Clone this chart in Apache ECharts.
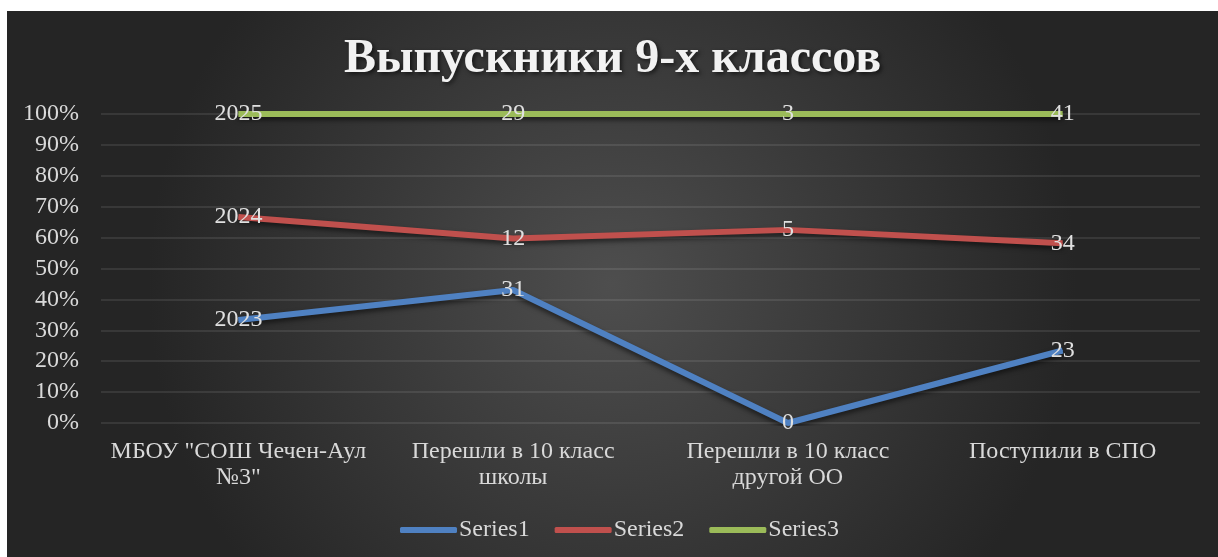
<!DOCTYPE html>
<html>
<head>
<meta charset="utf-8">
<script src="https://cdn.jsdelivr.net/npm/echarts@6/dist/echarts.min.js"></script>
<style>
html,body{margin:0;padding:0;background:#fff;}
#c{position:absolute;left:7px;top:11px;width:1211px;height:546px;}
</style>
</head>
<body>
<div id="c"></div>
<script>
const categories = ['МБОУ "СОШ Чечен-Аул\n№3"', 'Перешли в 10 класс\nшколы', 'Перешли в 10 класс\nдругой ОО', 'Поступили в СПО'];
const series1 = [2023, 31, 0, 23];
const series2 = [2024, 12, 5, 34];
const series3 = [2025, 29, 3, 41];
const seriesNames = ['Series1', 'Series2', 'Series3'];
const yTicks = [0, 0.1, 0.2, 0.3, 0.4, 0.5, 0.6, 0.7, 0.8, 0.9, 1];

const raw = [series1, series2, series3];
const totals = categories.map((_, i) => raw.reduce((s, a) => s + a[i], 0));
const shares = raw.map(a => a.map((v, i) => totals[i] ? v / totals[i] : 0));
const colors = ['#4f81c2', '#c0504d', '#9bbb59'];
const font = 'Liberation Serif';

const chart = echarts.init(document.getElementById('c'));
chart.setOption({
  backgroundColor: {
    type: 'radial', x: 0.5, y: 0.5, r: 0.85,
    colorStops: [{offset: 0, color: '#4e4e4e'}, {offset: 1, color: '#252525'}]
  },
  animation: false,
  title: {
    text: 'Выпускники 9-х классов',
    left: 'center', top: 20,
    textStyle: {
      fontFamily: font, fontSize: 48, fontWeight: 'bold', color: '#f2f2f2',
      textShadowColor: 'rgba(0,0,0,0.6)', textShadowBlur: 4, textShadowOffsetX: 2, textShadowOffsetY: 2
    }
  },
  legend: {
    bottom: 10, left: 388,
    icon: 'roundRect', itemWidth: 57, itemHeight: 6, itemGap: 25,
    textStyle: {fontFamily: font, fontSize: 24, color: '#d9d9d9', padding: [0, 0, 0, -3]},
    data: seriesNames
  },
  grid: {left: 94, right: 18, top: 103, bottom: 134, containLabel: false},
  xAxis: {
    type: 'category', data: categories, boundaryGap: true,
    axisLine: {show: false}, axisTick: {show: false},
    axisLabel: {fontFamily: font, fontSize: 24, color: '#d9d9d9', margin: 16, lineHeight: 26, interval: 0}
  },
  yAxis: {
    type: 'value', min: 0, max: 1, interval: 0.1,
    axisLine: {show: false}, axisTick: {show: false},
    splitLine: {lineStyle: {color: 'rgba(255,255,255,0.12)', width: 1.5}},
    axisLabel: {
      fontFamily: font, fontSize: 24, color: '#d9d9d9', margin: 22,
      formatter: v => Math.round(v * 100) + '%'
    }
  },
  series: raw.map((arr, k) => ({
    name: seriesNames[k], type: 'line', stack: 'total',
    data: shares[k],
    symbol: 'circle', symbolSize: 1, showSymbol: true,
    itemStyle: {color: colors[k]},
    lineStyle: {width: 6, color: colors[k], shadowColor: 'rgba(0,0,0,0.55)', shadowBlur: 5, shadowOffsetY: 3},
    label: {
      show: true, position: 'inside',
      fontFamily: font, fontSize: 24, color: '#e0e0e0',
      formatter: p => String(arr[p.dataIndex])
    },
    z: 2 + k
  }))
});
</script>
</body>
</html>
